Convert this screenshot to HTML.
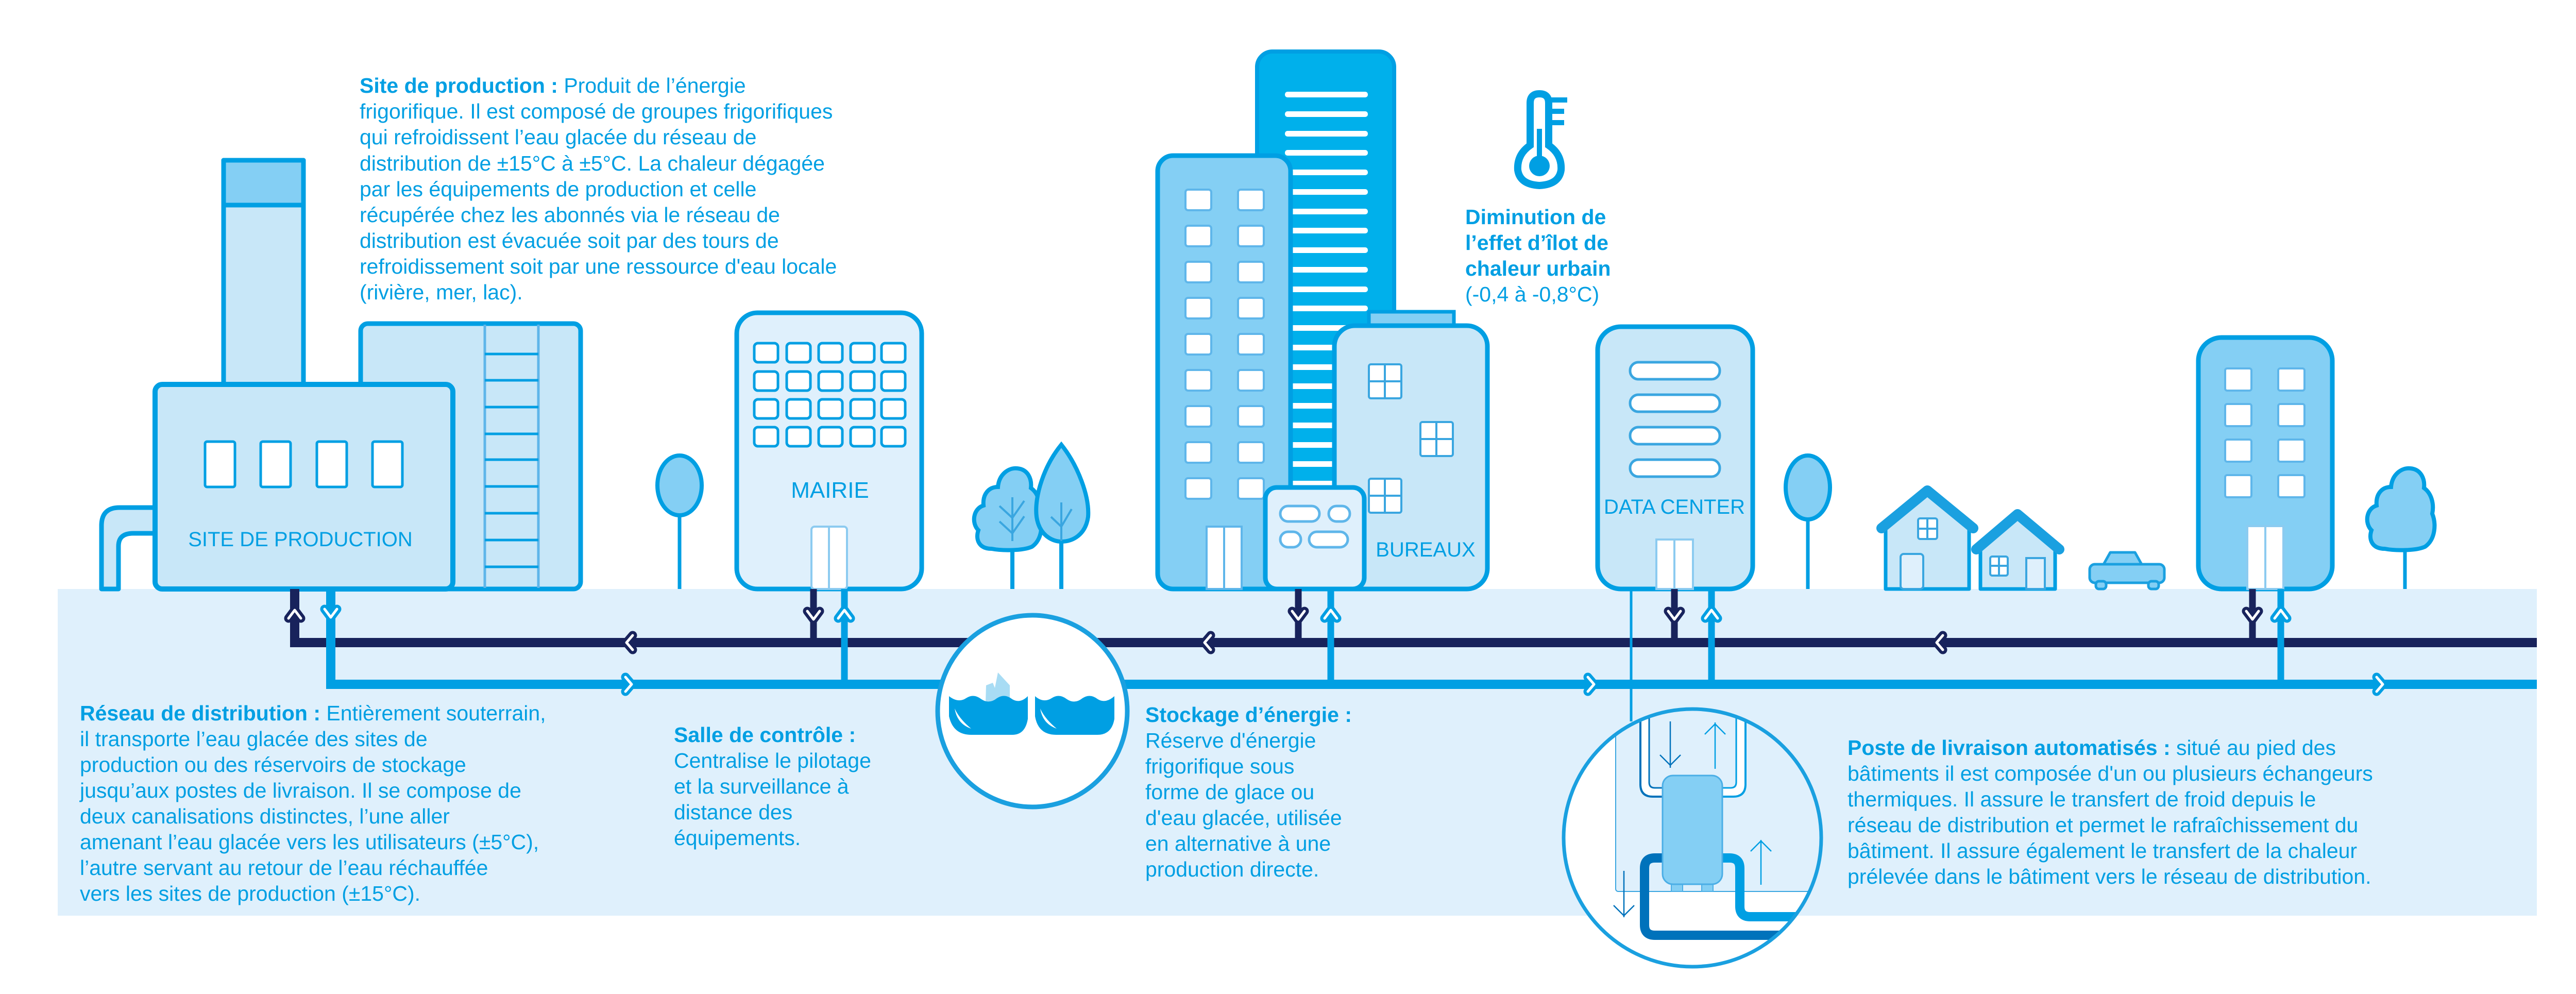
<!DOCTYPE html>
<html><head><meta charset="utf-8"><style>
html,body{margin:0;padding:0;background:#fff}
svg{display:block}
text{font-family:"Liberation Sans",sans-serif;fill:#009fe3}
.t{font-size:41px}
.b{font-weight:bold}
</style></head><body>
<svg width="5019" height="1929" viewBox="0 0 5019 1929" xmlns="http://www.w3.org/2000/svg">
<defs>
<path id="bush" d="M40 158 C15 158 8 140 14 122 C0 108 4 80 24 74 C22 52 34 38 52 38 C54 14 72 0 90 2 C110 4 118 22 116 40 C130 50 136 70 132 90 C140 110 138 140 118 154 C100 162 60 162 40 158 Z"/>
<path id="leaf" d="M53 0 C20 40 0 100 5 140 C10 175 35 188 53 188 C75 188 100 175 105 140 C108 100 85 40 53 0 Z"/>
<clipPath id="cc"><circle cx="3285" cy="1626" r="248"/></clipPath>
</defs>

<!-- band -->
<rect x="112" y="1143" width="4812" height="634" fill="#dff0fc"/>

<!-- FACTORY -->
<g stroke="#009fe3" stroke-width="9" stroke-linejoin="round">
<path d="M197 1143 V1020 Q197 985 232 985 H301 V1035 H258 Q230 1035 230 1060 V1143 Z" fill="#c8e7f8"/>
<rect x="434" y="311" width="155" height="440" fill="#c8e7f8"/>
<rect x="434" y="311" width="155" height="87" fill="#84cff4"/>
<rect x="700" y="628" width="427" height="515" rx="14" fill="#c8e7f8"/>
</g>
<g stroke="#009fe3" stroke-width="5">
<line x1="941" y1="630" x2="941" y2="1141" stroke="#5fb6ea"/>
<line x1="1045" y1="630" x2="1045" y2="1141" stroke="#5fb6ea"/>
<path d="M941 687H1045M941 738H1045M941 790H1045M941 842H1045M941 892H1045M941 944H1045M941 996H1045M941 1048H1045M941 1100H1045"/>
</g>
<rect x="301" y="746" width="578" height="397" rx="14" fill="#c8e7f8" stroke="#009fe3" stroke-width="10"/>
<g fill="#fff" stroke="#009fe3" stroke-width="5">
<rect x="398" y="857" width="58" height="88" rx="4"/><rect x="506" y="857" width="58" height="88" rx="4"/>
<rect x="615" y="857" width="58" height="88" rx="4"/><rect x="723" y="857" width="58" height="88" rx="4"/>
</g>
<text x="583" y="1060" font-size="40" text-anchor="middle">SITE DE PRODUCTION</text>

<!-- tree 1 (oval) -->
<line x1="1319" y1="990" x2="1319" y2="1143" stroke="#009fe3" stroke-width="7"/>
<ellipse cx="1319" cy="942" rx="43" ry="58" fill="#84cff4" stroke="#009fe3" stroke-width="8"/>
<!-- MAIRIE -->
<rect x="1430" y="607" width="359" height="536" rx="40" fill="#dff0fc" stroke="#009fe3" stroke-width="9"/>
<g fill="#fff" stroke="#009fe3" stroke-width="5">
<rect x="1464" y="666" width="46" height="37" rx="7"/><rect x="1527" y="666" width="46" height="37" rx="7"/><rect x="1589" y="666" width="46" height="37" rx="7"/><rect x="1651" y="666" width="46" height="37" rx="7"/><rect x="1711" y="666" width="46" height="37" rx="7"/>
<rect x="1464" y="721" width="46" height="37" rx="7"/><rect x="1527" y="721" width="46" height="37" rx="7"/><rect x="1589" y="721" width="46" height="37" rx="7"/><rect x="1651" y="721" width="46" height="37" rx="7"/><rect x="1711" y="721" width="46" height="37" rx="7"/>
<rect x="1464" y="775" width="46" height="37" rx="7"/><rect x="1527" y="775" width="46" height="37" rx="7"/><rect x="1589" y="775" width="46" height="37" rx="7"/><rect x="1651" y="775" width="46" height="37" rx="7"/><rect x="1711" y="775" width="46" height="37" rx="7"/>
<rect x="1464" y="829" width="46" height="37" rx="7"/><rect x="1527" y="829" width="46" height="37" rx="7"/><rect x="1589" y="829" width="46" height="37" rx="7"/><rect x="1651" y="829" width="46" height="37" rx="7"/><rect x="1711" y="829" width="46" height="37" rx="7"/>
</g>
<text x="1611" y="966" font-size="44" text-anchor="middle">MAIRIE</text>
<rect x="1575" y="1022" width="69" height="121" rx="6" fill="#fff" stroke="#8ccbf0" stroke-width="4"/>
<line x1="1609" y1="1022" x2="1609" y2="1143" stroke="#8ccbf0" stroke-width="4"/>

<!-- trees pair -->
<line x1="1965" y1="1040" x2="1965" y2="1143" stroke="#009fe3" stroke-width="8"/>
<line x1="2060" y1="1030" x2="2060" y2="1143" stroke="#009fe3" stroke-width="8"/>
<use href="#bush" x="1885" y="907" fill="#84cff4" stroke="#009fe3" stroke-width="8"/>
<use href="#leaf" x="2007" y="863" fill="#84cff4" stroke="#009fe3" stroke-width="8"/>
<g stroke="#3aa6e0" stroke-width="4" fill="none"><path d="M1965 965V1050M1940 982L1965 1005L1988 972M1940 1012L1965 1035L1988 1002"/><path d="M2060 975V1050M2040 1003L2060 1022L2080 988"/></g>

<!-- tall tower -->
<rect x="2440" y="100" width="266" height="1043" rx="30" fill="#00b0eb" stroke="#009fe3" stroke-width="8"/>
<g fill="#fff">
<rect x="2494" y="178" width="161" height="11" rx="5"/><rect x="2494" y="216" width="161" height="11" rx="5"/><rect x="2494" y="254" width="161" height="11" rx="5"/><rect x="2494" y="291" width="161" height="11" rx="5"/><rect x="2494" y="329" width="161" height="11" rx="5"/><rect x="2494" y="367" width="161" height="11" rx="5"/><rect x="2494" y="405" width="161" height="11" rx="5"/><rect x="2494" y="442" width="161" height="11" rx="5"/><rect x="2494" y="480" width="161" height="11" rx="5"/><rect x="2494" y="518" width="161" height="11" rx="5"/><rect x="2494" y="556" width="161" height="11" rx="5"/><rect x="2494" y="593" width="161" height="11" rx="5"/><rect x="2494" y="631" width="161" height="11" rx="5"/><rect x="2494" y="669" width="161" height="11" rx="5"/><rect x="2494" y="707" width="161" height="11" rx="5"/><rect x="2494" y="744" width="161" height="11" rx="5"/><rect x="2494" y="782" width="161" height="11" rx="5"/><rect x="2494" y="820" width="161" height="11" rx="5"/><rect x="2494" y="858" width="161" height="11" rx="5"/><rect x="2494" y="895" width="161" height="11" rx="5"/><rect x="2494" y="933" width="161" height="11" rx="5"/>
</g>
<!-- left building -->
<rect x="2247" y="302" width="258" height="841" rx="30" fill="#84cff4" stroke="#009fe3" stroke-width="9"/>
<g fill="#fff" stroke="#5fb6ea" stroke-width="4">
<rect x="2301" y="368" width="50" height="40" rx="5"/><rect x="2403" y="368" width="50" height="40" rx="5"/>
<rect x="2301" y="438" width="50" height="40" rx="5"/><rect x="2403" y="438" width="50" height="40" rx="5"/>
<rect x="2301" y="508" width="50" height="40" rx="5"/><rect x="2403" y="508" width="50" height="40" rx="5"/>
<rect x="2301" y="578" width="50" height="40" rx="5"/><rect x="2403" y="578" width="50" height="40" rx="5"/>
<rect x="2301" y="648" width="50" height="40" rx="5"/><rect x="2403" y="648" width="50" height="40" rx="5"/>
<rect x="2301" y="718" width="50" height="40" rx="5"/><rect x="2403" y="718" width="50" height="40" rx="5"/>
<rect x="2301" y="788" width="50" height="40" rx="5"/><rect x="2403" y="788" width="50" height="40" rx="5"/>
<rect x="2301" y="858" width="50" height="40" rx="5"/><rect x="2403" y="858" width="50" height="40" rx="5"/>
<rect x="2301" y="928" width="50" height="40" rx="5"/><rect x="2403" y="928" width="50" height="40" rx="5"/>
</g>
<rect x="2342" y="1022" width="68" height="121" fill="#fff" stroke="#5fb6ea" stroke-width="4"/>
<line x1="2376" y1="1022" x2="2376" y2="1143" stroke="#5fb6ea" stroke-width="4"/>
<!-- bureaux -->
<rect x="2657" y="605" width="165" height="30" fill="#84cff4" stroke="#009fe3" stroke-width="7"/>
<rect x="2590" y="632" width="297" height="511" rx="40" fill="#c8e7f8" stroke="#009fe3" stroke-width="9"/>
<g fill="#fff" stroke="#3aa6e0" stroke-width="4">
<rect x="2657" y="707" width="63" height="66" rx="4"/><rect x="2757" y="819" width="63" height="66" rx="4"/><rect x="2657" y="929" width="63" height="66" rx="4"/>
<path d="M2688 707V773M2657 740H2720M2788 819V885M2757 852H2820M2688 929V995M2657 962H2720" fill="none"/>
</g>
<text x="2767" y="1080" font-size="40" text-anchor="middle">BUREAUX</text>
<!-- control -->
<rect x="2456" y="946" width="192" height="197" rx="22" fill="#dff0fc" stroke="#009fe3" stroke-width="9"/>
<g fill="#fff" stroke="#5fb6ea" stroke-width="5">
<rect x="2485" y="982" width="76" height="30" rx="15"/><rect x="2579" y="982" width="41" height="30" rx="15"/>
<rect x="2485" y="1032" width="40" height="30" rx="15"/><rect x="2541" y="1032" width="75" height="30" rx="15"/>
</g>

<!-- thermometer -->
<g fill="none" stroke="#009fe3" stroke-width="14">
<path d="M2970 282 V200 Q2970 182 2988 182 Q3006 182 3006 200 V282 Q3032 300 3030 330 Q3026 358 2988 360 Q2950 358 2946 330 Q2944 300 2970 282 Z"/>
<path d="M3010 194H3042M3010 216H3036M3010 238H3036" stroke-width="10"/>
</g>
<circle cx="2988" cy="322" r="20" fill="#009fe3"/>
<rect x="2983" y="250" width="10" height="70" fill="#009fe3"/>
<text class="b" font-size="41" x="2844" y="435">Diminution de</text>
<text class="b" font-size="41" x="2844" y="485">l’effet d’îlot de</text>
<text class="b" font-size="41" x="2844" y="535">chaleur urbain</text>
<text font-size="41" x="2844" y="585">(-0,4 à -0,8°C)</text>

<!-- DATA CENTER -->
<rect x="3101" y="634" width="301" height="509" rx="45" fill="#c8e7f8" stroke="#009fe3" stroke-width="9"/>
<g fill="#fff" stroke="#3aa6e0" stroke-width="5">
<rect x="3164" y="703" width="174" height="33" rx="16"/><rect x="3164" y="766" width="174" height="33" rx="16"/><rect x="3164" y="829" width="174" height="33" rx="16"/><rect x="3164" y="892" width="174" height="33" rx="16"/>
</g>
<text x="3250" y="997" font-size="40" text-anchor="middle">DATA CENTER</text>
<rect x="3215" y="1047" width="71" height="96" fill="#fff" stroke="#8ccbf0" stroke-width="4"/>
<line x1="3250" y1="1047" x2="3250" y2="1143" stroke="#8ccbf0" stroke-width="4"/>

<!-- oval tree right -->
<line x1="3509" y1="1000" x2="3509" y2="1143" stroke="#009fe3" stroke-width="7"/>
<ellipse cx="3509" cy="946" rx="43" ry="62" fill="#84cff4" stroke="#009fe3" stroke-width="8"/>
<!-- houses -->
<g stroke="#009fe3" stroke-width="7" fill="#c8e7f8" stroke-linejoin="round">
<polygon points="3660,1143 3660,1022 3741,958 3822,1022 3822,1143"/>
<polygon points="3844,1143 3844,1065 3916,1004 3989,1065 3989,1143"/>
</g>
<g stroke="#1aa0e0" stroke-width="20" fill="none" stroke-linecap="round" stroke-linejoin="round">
<polyline points="3652,1025 3741,952 3830,1025"/>
<polyline points="3836,1066 3916,998 3997,1066"/>
</g>
<g fill="#fff" stroke="#3aa6e0" stroke-width="4">
<rect x="3723" y="1006" width="37" height="40" rx="4"/><path d="M3741 1006V1046M3723 1026H3760" fill="none"/>
<rect x="3689" y="1075" width="44" height="68" rx="6" fill="#dff0fc"/>
<rect x="3863" y="1080" width="34" height="37" rx="4"/><path d="M3880 1080V1117M3863 1098H3897" fill="none"/>
<rect x="3933" y="1083" width="36" height="60" fill="#dff0fc"/>
</g>
<!-- car -->
<g fill="#84cff4" stroke="#1aa0e0" stroke-width="5" stroke-linejoin="round">
<path d="M4082 1097 L4096 1072 H4144 L4158 1097 Z"/>
<rect x="4056" y="1095" width="145" height="36" rx="10"/>
<rect x="4068" y="1128" width="20" height="15" rx="6"/><rect x="4170" y="1128" width="20" height="15" rx="6"/>
</g>
<!-- right building -->
<rect x="4267" y="655" width="260" height="488" rx="45" fill="#84cff4" stroke="#009fe3" stroke-width="9"/>
<g fill="#fff" stroke="#5fb6ea" stroke-width="4">
<rect x="4319" y="715" width="51" height="43" rx="4"/><rect x="4422" y="715" width="51" height="43" rx="4"/>
<rect x="4319" y="784" width="51" height="43" rx="4"/><rect x="4422" y="784" width="51" height="43" rx="4"/>
<rect x="4319" y="853" width="51" height="43" rx="4"/><rect x="4422" y="853" width="51" height="43" rx="4"/>
<rect x="4319" y="922" width="51" height="43" rx="4"/><rect x="4422" y="922" width="51" height="43" rx="4"/>
</g>
<rect x="4362" y="1021" width="70" height="122" fill="#fff" stroke="#8ccbf0" stroke-width="4"/>
<line x1="4397" y1="1021" x2="4397" y2="1143" stroke="#8ccbf0" stroke-width="4"/>
<!-- right tree -->
<line x1="4668" y1="1040" x2="4668" y2="1143" stroke="#009fe3" stroke-width="7"/>
<use href="#bush" x="4590" y="907" fill="#84cff4" stroke="#009fe3" stroke-width="8" transform="translate(-1 0)"/>

<!-- PIPES -->
<g fill="none" stroke-linecap="butt">
<path d="M572 1143 V1247 H4924" stroke="#18235c" stroke-width="18"/>
<path d="M1579 1143V1247M2520 1143V1247M3250 1143V1247M4372 1143V1247" stroke="#18235c" stroke-width="13"/>
<path d="M642 1143 V1328 H4924" stroke="#009fe3" stroke-width="18"/>
<path d="M1639 1143V1328M2583 1143V1328M3322 1143V1328M4427 1143V1328" stroke="#009fe3" stroke-width="13"/>
<path d="M3166 1143 V1400" stroke="#009fe3" stroke-width="5"/>
</g>
<!-- chevrons -->
<g fill="none" stroke-linecap="round" stroke-linejoin="round">
<g stroke="#18235c" stroke-width="17">
<path d="M560 1200L572 1184L584 1200"/><path d="M1567 1186L1579 1202L1591 1186"/><path d="M2508 1186L2520 1202L2532 1186"/><path d="M3238 1186L3250 1202L3262 1186"/><path d="M4360 1186L4372 1202L4384 1186"/>
<path d="M1228 1233L1216 1247L1228 1261"/><path d="M2350 1233L2338 1247L2350 1261"/><path d="M3771 1233L3759 1247L3771 1261"/>
</g>
<g stroke="#009fe3" stroke-width="17">
<path d="M630 1182L642 1198L654 1182"/><path d="M1627 1200L1639 1184L1651 1200"/><path d="M2571 1200L2583 1184L2595 1200"/><path d="M3310 1200L3322 1184L3334 1200"/><path d="M4415 1200L4427 1184L4439 1200"/>
<path d="M1214 1314L1226 1328L1214 1342"/><path d="M3082 1314L3094 1328L3082 1342"/><path d="M4613 1314L4625 1328L4613 1342"/>
</g>
<g stroke="#fff" stroke-width="5">
<path d="M560 1200L572 1184L584 1200"/><path d="M1567 1186L1579 1202L1591 1186"/><path d="M2508 1186L2520 1202L2532 1186"/><path d="M3238 1186L3250 1202L3262 1186"/><path d="M4360 1186L4372 1202L4384 1186"/>
<path d="M1228 1233L1216 1247L1228 1261"/><path d="M2350 1233L2338 1247L2350 1261"/><path d="M3771 1233L3759 1247L3771 1261"/>
<path d="M630 1182L642 1198L654 1182"/><path d="M1627 1200L1639 1184L1651 1200"/><path d="M2571 1200L2583 1184L2595 1200"/><path d="M3310 1200L3322 1184L3334 1200"/><path d="M4415 1200L4427 1184L4439 1200"/>
<path d="M1214 1314L1226 1328L1214 1342"/><path d="M3082 1314L3094 1328L3082 1342"/><path d="M4613 1314L4625 1328L4613 1342"/>
</g>
</g>

<!-- ice storage circle -->
<ellipse cx="2004" cy="1380" rx="184" ry="186" fill="#fff" stroke="#1aa0e0" stroke-width="9"/>
<g fill="#009fe3">
<polygon points="1913,1364 1914,1330 1927,1325 1931,1335 1937,1305 1960,1330 1960,1364" fill="#a8dcf4"/>
<path d="M1842 1351 Q1860 1365 1875 1355 Q1890 1345 1905 1357 Q1920 1367 1935 1355 Q1950 1345 1965 1357 Q1980 1366 1995 1351 V1395 Q1990 1426 1965 1426 H1885 Q1850 1426 1842 1390 Z"/>
<path d="M2009 1351 Q2025 1365 2041 1355 Q2056 1345 2071 1357 Q2086 1367 2101 1355 Q2116 1345 2131 1357 Q2146 1366 2163 1351 V1395 Q2158 1426 2130 1426 H2050 Q2015 1426 2009 1390 Z"/>
</g>
<path d="M1853 1375 Q1858 1405 1885 1414 Q1862 1395 1853 1375Z M2019 1375 Q2024 1405 2051 1414 Q2028 1395 2019 1375Z" fill="#fff"/>

<!-- magnifier -->
<circle cx="3285" cy="1626" r="250" fill="#fff"/>
<g clip-path="url(#cc)">
<rect x="3000" y="1374" width="560" height="404" fill="#fff"/>
<rect x="3136" y="1340" width="460" height="390" rx="5" fill="#dff0fc" stroke="#3aa6e0" stroke-width="2"/>
<path d="M3192 1340 V1520 Q3192 1538 3210 1538 H3362 Q3380 1538 3380 1520 V1340" fill="none" stroke="#fff" stroke-width="16"/>
<path d="M3184 1340 V1522 Q3184 1546 3208 1546 H3254" fill="none" stroke="#0072bb" stroke-width="4"/>
<path d="M3201 1340 V1518 Q3201 1529 3212 1529 H3254" fill="none" stroke="#0072bb" stroke-width="3"/>
<path d="M3388 1340 V1522 Q3388 1546 3364 1546 H3320" fill="none" stroke="#009fe3" stroke-width="4"/>
<path d="M3370 1340 V1518 Q3370 1529 3359 1529 H3320" fill="none" stroke="#009fe3" stroke-width="3"/>
<path d="M3240 1665 H3212 Q3192 1665 3192 1685 V1795 Q3192 1815 3212 1815 H3600" fill="none" stroke="#0072bb" stroke-width="18"/>
<path d="M3330 1665 H3357 Q3377 1665 3377 1685 V1759 Q3377 1779 3397 1779 H3600" fill="none" stroke="#009fe3" stroke-width="18"/>
<rect x="3244" y="1712" width="22" height="18" fill="#84cff4" stroke="#4aaee6" stroke-width="2"/>
<rect x="3303" y="1712" width="22" height="18" fill="#84cff4" stroke="#4aaee6" stroke-width="2"/>
<rect x="3227" y="1505" width="116" height="211" rx="20" fill="#84cff4" stroke="#4aaee6" stroke-width="3"/>
<g fill="none" stroke="#0072bb" stroke-width="2.5">
<path d="M3242 1400V1490M3222 1465L3242 1485L3262 1465"/>
<path d="M3152 1690V1780M3132 1757L3152 1777L3172 1757"/>
</g>
<g fill="none" stroke="#009fe3" stroke-width="2.5">
<path d="M3329 1492V1402M3309 1425L3329 1405L3349 1425"/>
<path d="M3418 1717V1630M3398 1652L3418 1632L3438 1652"/>
</g>
</g>
<circle cx="3285" cy="1626" r="250" fill="none" stroke="#1aa0e0" stroke-width="7"/>

<!-- TEXT BLOCKS -->
<g class="t">
<text x="698" y="180"><tspan class="b">Site de production :</tspan> Produit de l’énergie</text>
<text x="698" y="230">frigorifique. Il est composé de groupes frigorifiques</text>
<text x="698" y="280">qui refroidissent l’eau glacée du réseau de</text>
<text x="698" y="331">distribution de ±15°C à ±5°C. La chaleur dégagée</text>
<text x="698" y="381">par les équipements de production et celle</text>
<text x="698" y="431">récupérée chez les abonnés via le réseau de</text>
<text x="698" y="481">distribution est évacuée soit par des tours de</text>
<text x="698" y="531">refroidissement soit par une ressource d'eau locale</text>
<text x="698" y="581">(rivière, mer, lac).</text>

<text x="155" y="1398"><tspan class="b">Réseau de distribution :</tspan> Entièrement souterrain,</text>
<text x="155" y="1448">il transporte l’eau glacée des sites de</text>
<text x="155" y="1498">production ou des réservoirs de stockage</text>
<text x="155" y="1548">jusqu’aux postes de livraison. Il se compose de</text>
<text x="155" y="1598">deux canalisations distinctes, l’une aller</text>
<text x="155" y="1648">amenant l’eau glacée vers les utilisateurs (±5°C),</text>
<text x="155" y="1698">l’autre servant au retour de l’eau réchauffée</text>
<text x="155" y="1748">vers les sites de production (±15°C).</text>

<text x="1308" y="1440" class="b">Salle de contrôle :</text>
<text x="1308" y="1490">Centralise le pilotage</text>
<text x="1308" y="1540">et la surveillance à</text>
<text x="1308" y="1590">distance des</text>
<text x="1308" y="1640">équipements.</text>

<text x="2223" y="1401" class="b">Stockage d’énergie :</text>
<text x="2223" y="1451">Réserve d'énergie</text>
<text x="2223" y="1501">frigorifique sous</text>
<text x="2223" y="1551">forme de glace ou</text>
<text x="2223" y="1601">d'eau glacée, utilisée</text>
<text x="2223" y="1651">en alternative à une</text>
<text x="2223" y="1701">production directe.</text>

<text x="3586" y="1465"><tspan class="b">Poste de livraison automatisés :</tspan> situé au pied des</text>
<text x="3586" y="1515">bâtiments il est composée d'un ou plusieurs échangeurs</text>
<text x="3586" y="1565">thermiques. Il assure le transfert de froid depuis le</text>
<text x="3586" y="1615">réseau de distribution et permet le rafraîchissement du</text>
<text x="3586" y="1665">bâtiment. Il assure également le transfert de la chaleur</text>
<text x="3586" y="1715">prélevée dans le bâtiment vers le réseau de distribution.</text>
</g>
</svg>
</body></html>
